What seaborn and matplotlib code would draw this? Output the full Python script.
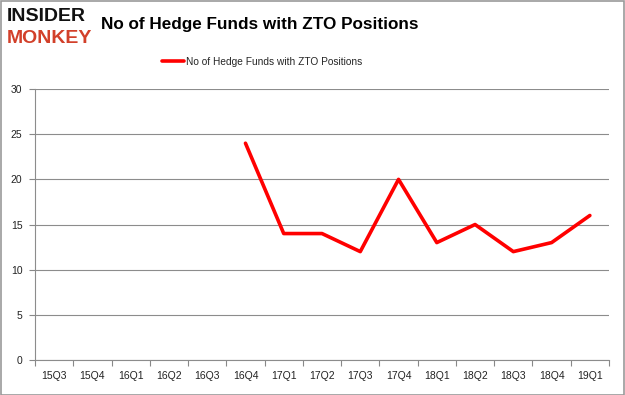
import matplotlib
matplotlib.use("Agg")
import matplotlib.pyplot as plt
import seaborn as sns
import numpy as np
import pandas as pd

quarters = ["15Q3", "15Q4", "16Q1", "16Q2", "16Q3", "16Q4", "17Q1", "17Q2",
            "17Q3", "17Q4", "18Q1", "18Q2", "18Q3", "18Q4", "19Q1"]
funds = [np.nan, np.nan, np.nan, np.nan, np.nan, 24, 14, 14, 12, 20, 13, 15, 12, 13, 16]
series_name = "No of Hedge Funds with ZTO Positions"

df = pd.DataFrame({"pos": range(len(quarters)), "quarter": quarters, "funds": funds})
df = df.dropna()

sns.set_style("white")
plt.rcParams["font.family"] = ["Liberation Sans", "DejaVu Sans"]

fig = plt.figure(figsize=(6.25, 3.95), dpi=100)
ax = fig.add_axes([0.056, 0.0886, 0.9184, 0.686])

sns.lineplot(data=df, x="pos", y="funds", ax=ax, color="#ff0000", linewidth=2.6,
             label=series_name)

ax.set_xlim(-0.5, len(quarters) - 0.5)
ax.set_ylim(0, 30)
ax.set_yticks(range(0, 31, 5))
ax.set_xticks(range(len(quarters)))
ax.set_xticklabels(quarters)
ax.set_xticks(np.arange(-0.5, len(quarters), 1), minor=True)
ax.tick_params(axis="x", which="major", length=0, pad=8, labelsize=7.5, colors="#222222")
ax.tick_params(axis="x", which="minor", length=4, color="#888888", width=0.8)
ax.tick_params(axis="y", length=4, color="#888888", width=0.8, labelsize=7.5,
               colors="#222222", pad=5)
ax.tick_params(axis="y", which="both", direction="out", left=True)
ax.tick_params(axis="x", which="minor", bottom=True, direction="out")
ax.grid(axis="y", color="#8c8c8c", linewidth=0.8)
ax.set_axisbelow(True)
for side in ["top", "right"]:
    ax.spines[side].set_visible(False)
for side in ["left", "bottom"]:
    ax.spines[side].set_color("#8c8c8c")
    ax.spines[side].set_linewidth(0.8)
ax.set_xlabel("")
ax.set_ylabel("")

ax.legend(loc="center", bbox_to_anchor=(0.396, 1.1), frameon=False,
          fontsize=7.25, handlelength=2.2, handletextpad=0.2)

fig.text(0.416, 0.937, "No of Hedge Funds with ZTO Positions", ha="center", va="center",
         fontsize=12.3, fontweight="bold", color="black")
fig.text(0.01, 0.958, "INSIDER", ha="left", va="center", fontsize=14,
         fontweight="heavy", color="#111111")
fig.text(0.01, 0.903, "MONKEY", ha="left", va="center", fontsize=14,
         fontweight="heavy", color="#d2402a")

fig.patches.append(plt.Rectangle((0.001, 0.001), 0.997, 0.997, transform=fig.transFigure,
                                 fill=False, edgecolor="#999999", linewidth=1.2))

fig.savefig("out.png", dpi=100)
